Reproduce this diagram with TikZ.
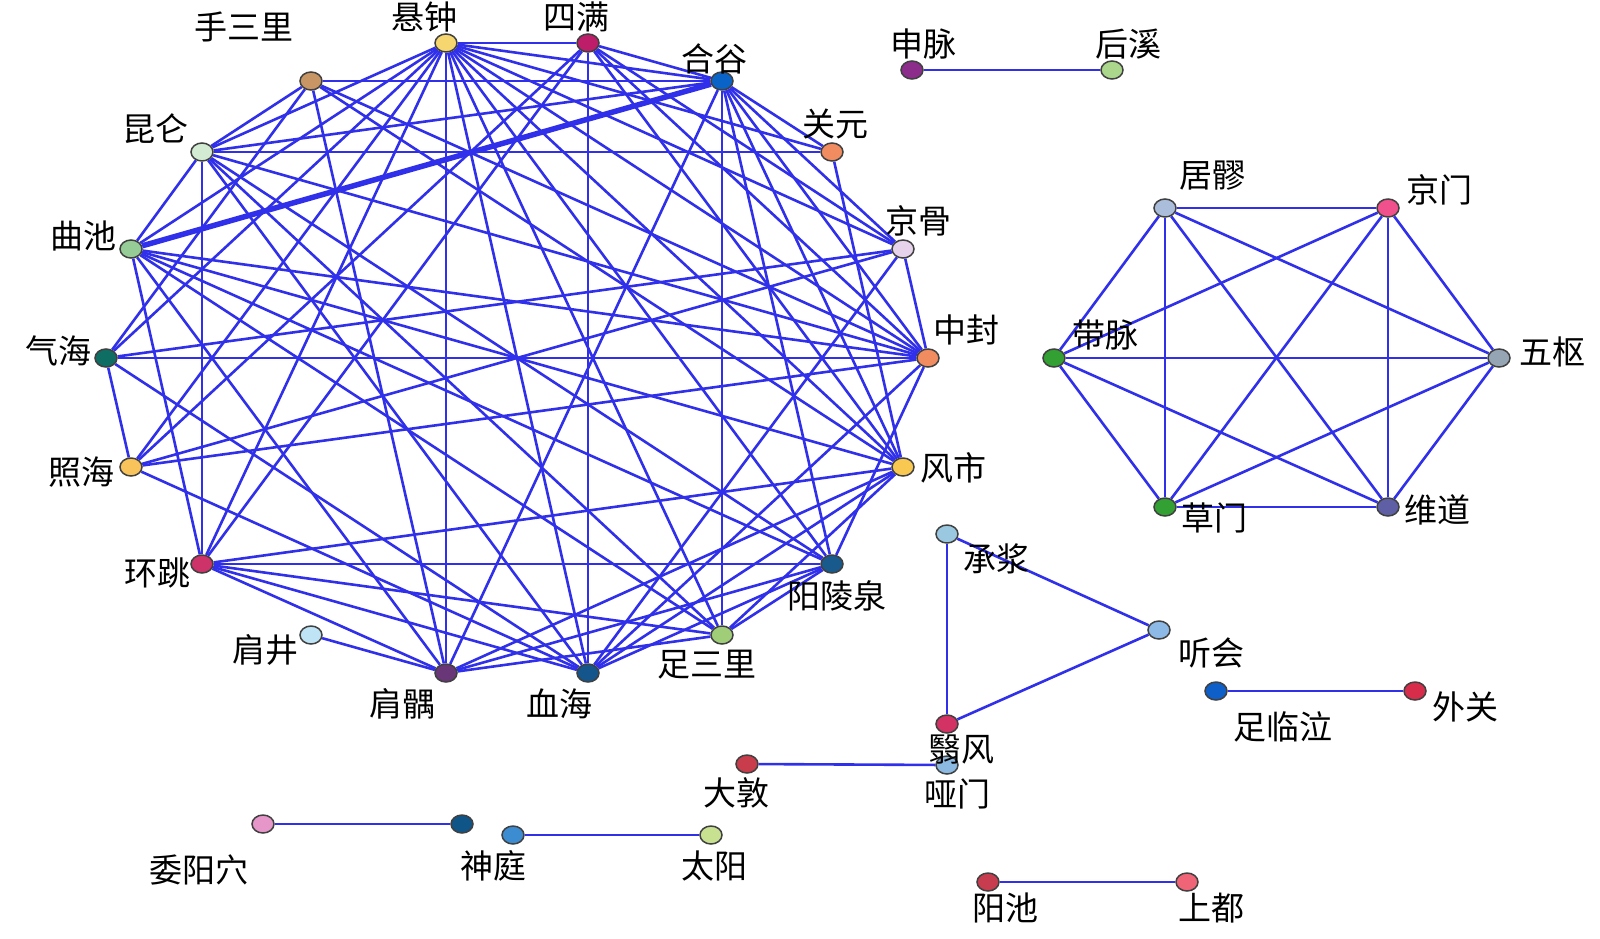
\documentclass[tikz,border=0pt]{standalone}
\usepackage{fontspec}
\newfontfamily\cjk{Noto Sans CJK SC}
\usetikzlibrary{shapes.geometric}
\pgfdeclarelayer{bg}
\pgfsetlayers{bg,main}
\definecolor{edgeblue}{RGB}{48,48,235}
\definecolor{cXZ}{RGB}{246,214,110}
\definecolor{cSM}{RGB}{190,30,105}
\definecolor{cHG}{RGB}{10,100,200}
\definecolor{cSSL}{RGB}{200,150,100}
\definecolor{cGY}{RGB}{240,140,95}
\definecolor{cKL}{RGB}{210,235,210}
\definecolor{cJG}{RGB}{230,210,235}
\definecolor{cQC}{RGB}{150,205,150}
\definecolor{cZF}{RGB}{240,140,95}
\definecolor{cQH}{RGB}{15,110,100}
\definecolor{cFS}{RGB}{248,200,80}
\definecolor{cZH}{RGB}{248,195,90}
\definecolor{cYLQ}{RGB}{25,90,140}
\definecolor{cHT}{RGB}{205,50,105}
\definecolor{cZSL}{RGB}{160,205,120}
\definecolor{cJJ}{RGB}{190,228,245}
\definecolor{cXH}{RGB}{20,85,140}
\definecolor{cJY}{RGB}{105,55,120}
\definecolor{cSMai}{RGB}{140,45,140}
\definecolor{cHX}{RGB}{170,215,140}
\definecolor{cJL}{RGB}{170,190,220}
\definecolor{cJM}{RGB}{240,80,140}
\definecolor{cWS}{RGB}{150,165,180}
\definecolor{cWD}{RGB}{95,95,165}
\definecolor{cCM}{RGB}{50,160,50}
\definecolor{cDM}{RGB}{50,160,50}
\definecolor{cCJ}{RGB}{155,200,225}
\definecolor{cTH}{RGB}{140,185,230}
\definecolor{cYF}{RGB}{210,50,100}
\definecolor{cZLQ}{RGB}{15,95,200}
\definecolor{cWG}{RGB}{215,45,75}
\definecolor{cDD}{RGB}{200,60,75}
\definecolor{cYM}{RGB}{140,185,225}
\definecolor{cWY}{RGB}{230,150,200}
\definecolor{cPA}{RGB}{15,85,135}
\definecolor{cST}{RGB}{60,140,210}
\definecolor{cTY}{RGB}{200,225,145}
\definecolor{cYC}{RGB}{200,60,80}
\definecolor{cSD}{RGB}{240,100,120}
\begin{document}
\begin{tikzpicture}[x=1pt,y=-1pt,
  pt/.style={ellipse, draw=black!75, line width=1.5pt, minimum width=22pt, minimum height=18pt, inner sep=0pt},
  lbl/.style={font=\cjk\fontsize{33}{33}\selectfont, inner sep=0pt, text=black},
  edge/.style={draw=edgeblue, line width=2.6pt},
  thickedge/.style={draw=edgeblue, line width=5.5pt}]
\useasboundingbox (0,0) rectangle (1600,938);
% big circle nodes
\node[pt, fill=cZF]  (zf)  at (928,358) {};
\node[pt, fill=cJG]  (jg)  at (903,249) {};
\node[pt, fill=cGY]  (gy)  at (832,152) {};
\node[pt, fill=cHG]  (hg)  at (722,81) {};
\node[pt, fill=cSM]  (sm)  at (588,43) {};
\node[pt, fill=cXZ]  (xz)  at (446,43) {};
\node[pt, fill=cSSL] (ssl) at (311,81) {};
\node[pt, fill=cKL]  (kl)  at (202,152) {};
\node[pt, fill=cQC]  (qc)  at (131,249) {};
\node[pt, fill=cQH]  (qh)  at (106,358) {};
\node[pt, fill=cZH]  (zh)  at (131,467) {};
\node[pt, fill=cHT]  (ht)  at (202,564) {};
\node[pt, fill=cJJ]  (jj)  at (311,635) {};
\node[pt, fill=cJY]  (jy)  at (446,673) {};
\node[pt, fill=cXH]  (xh)  at (588,673) {};
\node[pt, fill=cZSL] (zsl) at (722,635) {};
\node[pt, fill=cYLQ] (ylq) at (832,564) {};
\node[pt, fill=cFS]  (fs)  at (903,467) {};
% hexagon
\node[pt, fill=cJL] (jl) at (1165,208) {};
\node[pt, fill=cJM] (jm) at (1388,208) {};
\node[pt, fill=cWS] (ws) at (1499,358) {};
\node[pt, fill=cWD] (wd) at (1388,507) {};
\node[pt, fill=cCM] (cm) at (1165,507) {};
\node[pt, fill=cDM] (dm) at (1054,358) {};
% small graphs
\node[pt, fill=cSMai] (smai) at (912,70) {};
\node[pt, fill=cHX] (hx) at (1112,70) {};
\node[pt, fill=cCJ] (cj) at (947,534) {};
\node[pt, fill=cTH] (th) at (1159,630) {};
\node[pt, fill=cYF] (yf) at (947,724) {};
\node[pt, fill=cZLQ] (zlq) at (1216,691) {};
\node[pt, fill=cWG] (wg) at (1415,691) {};
\node[pt, fill=cDD] (dd) at (747,764) {};
\node[pt, fill=cYM] (ym) at (947,765) {};
\node[pt, fill=cWY] (wy) at (263,824) {};
\node[pt, fill=cPA] (pa) at (462,824) {};
\node[pt, fill=cST] (st) at (513,835) {};
\node[pt, fill=cTY] (ty) at (711,835) {};
\node[pt, fill=cYC] (yc) at (988,882) {};
\node[pt, fill=cSD] (sd) at (1187,882) {};
% edges
\begin{pgfonlayer}{bg}
\fill[white] (0,0) rectangle (1600,938);
\foreach \a/\b in {xz/sm, ssl/hg, kl/gy, qh/zf, ht/ylq, xz/jy, sm/xh, hg/zsl, kl/ht, hg/gy, gy/fs, jg/zf, qh/zh, jj/jy, kl/ssl, ht/fs, qc/kl,
  xz/hg, xz/kl, xz/qc, xz/zh, xz/ht, xz/qh, xz/xh, xz/zsl, xz/ylq, xz/fs, xz/zf, xz/jg, xz/gy,
  sm/zh, sm/ht, sm/hg, sm/jg, sm/zf, sm/fs,
  hg/kl, hg/jy, hg/ylq, hg/fs, hg/zf, hg/jg,
  kl/zf, kl/ylq, kl/zsl, kl/xh,
  qc/ht, qc/zf, qc/fs, qc/ylq, qc/zsl, qc/jy,
  qh/jg, qh/ssl, qh/xh,
  zh/jg, zh/zf, zh/xh,
  ht/jy, ht/zsl, ht/xh,
  jy/ssl, jy/zsl, jy/ylq, jy/fs,
  xh/ylq, xh/fs, xh/zf,
  zsl/ylq, zsl/fs, ylq/zf, jg/xh, ssl/zf, ssl/fs}
  \draw[edge] (\a) -- (\b);
\draw[thickedge] (qc) -- (hg);
\foreach \a/\b in {jl/jm, jl/ws, jl/wd, jl/cm, jl/dm, jm/ws, jm/wd, jm/cm, jm/dm, ws/wd, ws/cm, ws/dm, wd/cm, wd/dm, cm/dm,
  smai/hx, cj/th, th/yf, yf/cj, zlq/wg, dd/ym, wy/pa, st/ty, yc/sd}
  \draw[edge] (\a) -- (\b);
\end{pgfonlayer}
% labels
\node[lbl] (l-zf)  at (966,330) {中封};
\node[lbl] (l-jg)  at (918,221) {京骨};
\node[lbl] (l-gy)  at (835,124) {关元};
\node[lbl] (l-hg)  at (714,59) {合谷};
\node[lbl] (l-sm)  at (576,17) {四满};
\node[lbl] (l-xz)  at (424,17) {悬钟};
\node[lbl] (l-ssl) at (244,27) {手三里};
\node[lbl] (l-kl)  at (155,129) {昆仑};
\node[lbl] (l-qc)  at (83,236) {曲池};
\node[lbl] (l-qh)  at (58,351) {气海};
\node[lbl] (l-zh)  at (81,472) {照海};
\node[lbl] (l-ht)  at (157,573) {环跳};
\node[lbl] (l-jj)  at (265,650) {肩井};
\node[lbl] (l-jy)  at (402,704) {肩髃};
\node[lbl] (l-xh)  at (559,704) {血海};
\node[lbl] (l-zsl) at (707,665) {足三里};
\node[lbl] (l-ylq) at (837,596) {阳陵泉};
\node[lbl] (l-fs)  at (953,468) {风市};
\node[lbl] (l-smai) at (923,44) {申脉};
\node[lbl] (l-hx)  at (1128,44) {后溪};
\node[lbl] (l-jl)  at (1212,176) {居髎};
\node[lbl] (l-jm)  at (1439,190) {京门};
\node[lbl] (l-ws)  at (1552,352) {五枢};
\node[lbl] (l-dm)  at (1105,335) {带脉};
\node[lbl] (l-cm)  at (1214,518) {草门};
\node[lbl] (l-wd)  at (1437,510) {维道};
\node[lbl] (l-cj)  at (996,559) {承浆};
\node[lbl] (l-th)  at (1211,653) {听会};
\node[lbl] (l-yf)  at (961,750) {翳风};
\node[lbl] (l-ym)  at (957,794) {哑门};
\node[lbl] (l-dd)  at (736,793) {大敦};
\node[lbl] (l-zlq) at (1283,727) {足临泣};
\node[lbl] (l-wg)  at (1465,707) {外关};
\node[lbl] (l-wy)  at (199,870) {委阳穴};
\node[lbl] (l-st)  at (493,866) {神庭};
\node[lbl] (l-ty)  at (714,866) {太阳};
\node[lbl] (l-yc)  at (1005,908) {阳池};
\node[lbl] (l-sd)  at (1211,908) {上都};
\end{tikzpicture}
\end{document}
